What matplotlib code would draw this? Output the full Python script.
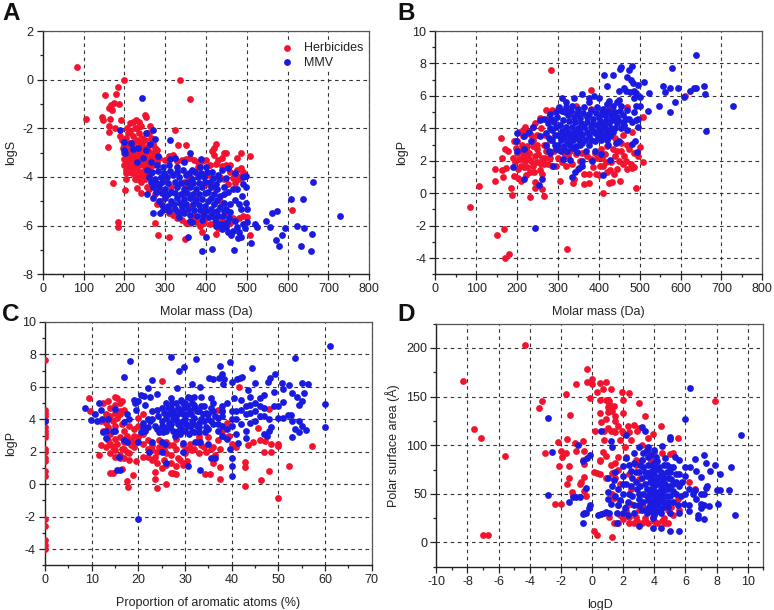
import matplotlib
matplotlib.use("Agg")
import matplotlib.pyplot as plt
from matplotlib.ticker import MultipleLocator
from matplotlib.transforms import blended_transform_factory

plt.rcParams['font.family'] = ['Liberation Sans', 'DejaVu Sans']
plt.rcParams['axes.unicode_minus'] = False

RED = '#f2142e'
BLUE = '#1a1ae0'

A_HERB = [(85,.5),(107,-1.6),(145,-1.55),(147,-1.65),(152,-.65),(160,-2.75),(162,-2.15),(163,-1.9),(164,-1.6),(162,-1.15),(168,-1.05),(170,-1.25),(175,-.95),(172,-4.25),(180,-.6),(185,-.3),(200,0),(188,-1.0),(192,-1.65),(178,-2.0),(190,-2.3),(185,-5.85),(184,-6.07),(203,-4.1),(202,-4.55),(337,0),(362,-.8),(323,-2.05),(332,-2.7),(350,-2.7),(250,-1.45),(252,-1.55),(263,-1.9),(215,-1.8),(222,-1.72),(228,-1.65),(235,-1.75),(240,-1.9),(425,-2.65),(420,-2.8),(415,-2.95),(445,-3.0),(450,-3.0),(485,-3.0),(475,-3.2),(507,-3.15),(485,-3.65),(490,-3.8),(610,-5.37),(500,-5.65),(507,-6.4),(425,-6.35),(390,-6.25),(348,-6.55),(310,-6.45),(283,-6.4),(274,-5.9),
(195,-2.5),(200,-2.7),(205,-2.4),(210,-2.2),(215,-2.6),(220,-2.3),(225,-2.8),(230,-2.5),(235,-2.2),(240,-2.6),(245,-2.9),(250,-2.5),(255,-2.2),(260,-2.7),(265,-2.4),(200,-3.0),(205,-3.2),(210,-3.0),(215,-3.3),(220,-3.0),(225,-3.2),(230,-3.0),(235,-3.3),(240,-3.0),(250,-3.2),(255,-3.0),(260,-3.3),(270,-3.0),(280,-2.9),(200,-3.5),(205,-3.7),(210,-3.5),(215,-3.8),(220,-3.6),(225,-3.4),(230,-3.7),(235,-3.5),(240,-3.8),(245,-3.5),(250,-3.7),(260,-3.6),(270,-3.5),(280,-3.4),(225,-4.1),(230,-4.1),(235,-4.0),(240,-4.2),(250,-4.1),(255,-4.4),(230,-4.45),(240,-4.65),(260,-4.5),(275,-4.7),(290,-5.0),(280,-5.1),
(300,-3.3),(320,-3.1),(340,-3.3),(360,-3.2),(380,-3.4),(400,-3.3),(420,-3.1),(430,-3.3),(440,-3.2),(450,-3.5),(460,-3.8),(470,-3.9),(480,-4.1),(470,-4.25),(455,-4.3),(435,-4.0),(405,-3.9),(380,-3.6),(345,-4.2),(345,-4.65),(350,-4.4),(330,-5.7),(350,-5.9),(370,-5.6),(385,-6.0),(400,-5.7),(420,-5.9),(440,-5.8),(460,-5.9),(480,-5.7),(300,-4.8),(320,-5.2),(310,-5.5),(340,-5.4),(365,-5.2),(375,-4.9),(395,-5.4),(415,-5.6),(435,-5.0),(455,-5.5),(405,-4.3),(425,-4.5),(285,-4.3),(300,-4.0),(315,-4.4),(360,-4.0)]
A_HERB_DENSE = [(197,-2.8),(203,-2.95),(208,-2.7),(213,-2.9),(218,-2.75),(223,-2.55),(228,-2.95),(233,-2.75),(238,-2.85),(243,-2.4),(248,-2.75),(198,-3.25),(203,-3.4),(208,-3.3),(213,-3.1),(218,-3.25),(223,-3.45),(228,-3.35),(233,-3.15),(238,-3.4),(243,-3.2),(247,-3.05),(253,-3.45),(258,-2.9),(265,-3.2),(275,-3.25),(285,-3.2),(203,-3.85),(208,-3.75),(213,-3.6),(218,-3.85),(228,-3.95),(238,-4.05),(245,-3.9),(252,-3.9),(265,-3.85),(225,-2.0),(232,-2.0),(215,-2.1),(207,-2.0),(260,-2.2),(270,-2.65),(275,-2.8),(310,-3.15),(330,-3.35),(350,-3.25),(370,-3.3),(390,-3.35),(410,-3.5),(425,-3.45),(440,-3.55),(460,-3.5),(475,-3.7),(485,-3.95),(475,-4.1),(465,-4.05),(445,-4.1),(340,-5.75),(360,-5.9),(375,-5.85),(395,-5.9),(410,-5.95),(430,-6.1),(445,-5.9),(465,-5.7),(490,-5.6),(320,-5.55),(300,-5.3),(290,-4.6),(270,-4.3)]

A_MMV = [(243,-.75),(190,-2.05),(200,-2.55),(200,-2.9),(201,-3.0),(217,-2.6),(220,-2.85),(230,-3.4),(233,-2.8),(253,-2.2),(270,-2.05),(263,-2.65),(274,-2.45),(252,-2.9),(245,-3.2),(282,-3.15),(312,-2.5),(313,-3.25),(325,-3.2),(360,-3.0),(388,-3.25),(255,-4.7),(270,-4.85),(285,-5.0),(270,-5.5),(288,-5.5),(295,-5.35),(357,-6.45),(401,-6.45),(390,-7.05),(414,-6.95),(469,-7.0),(510,-6.7),(485,-6.45),(478,-6.5),(520,-5.95),(525,-6.05),(547,-5.8),(556,-6.05),(561,-5.5),(575,-5.4),(572,-6.6),(579,-6.85),(587,-6.4),(593,-6.1),(609,-4.9),(622,-6.0),(632,-6.85),(637,-4.9),(639,-6.1),(658,-7.05),(660,-6.35),(663,-4.2),(728,-5.6),
(255,-3.7),(265,-3.4),(280,-3.5),(295,-3.6),(310,-3.5),(330,-3.6),(345,-3.4),(365,-3.7),(385,-3.6),(400,-3.6),(415,-3.8),(430,-3.9),(440,-3.7),(455,-3.65),(470,-3.85),(490,-4.0),(497,-3.95),(498,-4.4),(490,-4.3),(475,-4.5),(465,-4.5),(455,-4.6),(445,-4.7),(260,-4.0),(275,-4.1),(290,-4.0),(305,-4.0),(320,-3.9),(335,-4.0),(350,-3.9),(365,-4.1),(380,-4.0),(395,-4.0),(410,-4.2),(425,-4.3),(270,-4.4),(285,-4.4),(300,-4.5),(315,-4.6),(330,-4.4),(345,-4.5),(360,-4.4),(375,-4.5),(390,-4.4),(405,-4.6),(420,-4.7),(435,-4.8),(300,-4.85),(315,-5.0),(330,-4.85),(345,-4.9),(360,-4.85),(375,-4.95),(390,-4.9),(405,-5.0),(420,-5.1),(435,-5.25),(450,-5.3),(310,-5.4),(325,-5.3),(340,-5.25),(355,-5.3),(370,-5.35),(385,-5.35),(400,-5.4),(415,-5.5),(430,-5.6),(445,-5.4),(460,-5.45),(470,-4.95),(480,-5.1),(487,-4.8),(497,-5.05),(500,-5.3),(485,-5.3),(335,-5.65),(360,-5.8),(365,-5.85),(390,-5.75),(425,-5.85),(425,-6.0),(440,-6.15),(455,-6.25),(462,-6.4),(475,-6.05),(490,-5.95),(500,-5.85),(495,-6.1),(470,-5.8),(450,-6.05)]
A_MMV_DENSE = [(268,-3.8),(283,-3.75),(298,-3.85),(313,-3.75),(328,-3.8),(343,-3.7),(358,-3.85),(373,-3.8),(388,-3.85),(403,-3.8),(418,-4.05),(433,-4.1),(448,-4.05),(265,-4.2),(278,-4.25),(293,-4.2),(308,-4.25),(323,-4.2),(338,-4.25),(353,-4.2),(368,-4.25),(383,-4.25),(398,-4.2),(413,-4.4),(428,-4.5),(443,-4.4),(278,-4.6),(293,-4.65),(308,-4.7),(323,-4.65),(338,-4.7),(353,-4.65),(368,-4.7),(383,-4.7),(398,-4.65),(413,-4.85),(428,-4.95),(443,-5.05),(458,-5.1),(292,-5.15),(307,-5.2),(322,-5.1),(337,-5.05),(352,-5.1),(367,-5.1),(382,-5.15),(397,-5.2),(412,-5.3),(427,-5.4),(442,-5.6),(457,-5.7),(332,-5.45),(347,-5.5),(362,-5.55),(377,-5.6),(392,-5.55),(407,-5.65),(422,-5.7),(437,-5.95),(452,-5.85),(467,-6.2),(482,-6.25)]

B_HERB = [(85,-.87),(107,.45),(145,.78),(147,1.5),(152,-2.55),(160,3.4),(162,2.2),(163,1.4),(168,-2.2),(170,-4.0),(181,-3.75),(165,1.0),(172,1.55),(170,2.7),(178,2.6),(185,.3),(187,-.1),(192,1.05),(203,.95),(210,.75),(222,1.1),(232,-.25),(243,.3),(243,.7),(262,.25),(265,-.2),(283,7.62),(323,-3.45),(305,.75),(337,.65),(340,.9),(363,.55),(376,.6),(380,6.35),(410,0),(425,.65),(433,.7),(452,.75),(490,.3),(610,6.0),(507,4.7),(507,1.95),(500,2.85),(495,2.3),(480,1.55),(487,1.6),(470,1.5),(467,2.0),(478,1.8),(455,2.6),(470,3.0),
(190,2.2),(195,1.9),(200,2.5),(205,2.1),(210,1.7),(215,2.3),(220,2.0),(225,1.6),(230,2.5),(235,2.0),(240,1.7),(245,2.3),(250,1.9),(255,1.4),(260,2.2),(265,1.8),(270,2.6),(280,2.2),(285,1.7),(200,3.2),(205,3.8),(215,3.5),(220,4.1),(225,2.9),(235,3.6),(245,4.3),(250,3.0),(255,4.65),(270,5.1),(285,5.15),(300,5.2),(330,5.0),(345,5.4),(380,5.2),(425,5.2),(440,5.0),(470,5.3),(480,3.8),(460,3.6),(440,3.4),(420,2.9),(300,2.2),(310,1.9),(325,2.3),(335,1.8),(345,2.4),(355,2.0),(365,1.2),(370,2.3),(385,1.6),(395,2.2),(400,1.1),(410,1.7),(415,2.4),(420,1.3),(430,1.9),(440,2.3),(445,1.5),(450,2.0),(405,2.7),(390,2.5),(435,2.7),(455,3.1),(280,3.3),(265,3.0),(240,3.3)]
B_HERB_DENSE = [(192,3.2),(198,2.8),(203,1.5),(208,2.6),(212,3.0),(218,1.6),(222,2.7),(228,2.2),(232,1.3),(238,2.9),(242,1.3),(248,2.7),(252,2.4),(258,1.8),(262,1.2),(268,2.2),(272,2.9),(276,1.8),(290,2.6),(295,1.7),(300,2.7),(215,3.9),(228,3.7),(238,4.1),(258,4.0),(268,3.6),(278,4.7),(248,3.6),(210,2.1),(218,2.4),(226,2.2),(315,2.5),(320,1.7),(330,2.6),(350,1.5),(360,2.5),(375,1.2),(380,2.1),(392,1.2),(402,1.7),(408,2.2),(418,1.9),(428,1.4),(438,1.2),(445,2.6),(458,1.8),(462,2.3),(475,2.7),(485,2.5)]

B_MMV = [(189,1.6),(200,2.6),(218,2.75),(217,.85),(253,.5),(262,.9),(288,1.7),(243,-2.15),(335,1.0),(342,1.3),(352,1.55),(358,1.65),(410,1.1),(427,2.05),(359,2.0),(384,2.0),(330,2.05),(312,2.1),(280,2.45),(277,2.6),(405,2.4),(347,2.55),(368,2.6),(390,2.6),(423,3.0),(442,3.1),(450,3.2),(480,3.05),(488,3.2),(494,2.55),(495,4.1),
(197,3.2),(200,3.7),(216,3.5),(230,3.8),(240,4.1),(255,4.5),(265,4.55),(280,4.9),(310,5.85),(340,5.85),(359,6.1),(388,6.0),(400,5.85),(420,6.6),(413,7.3),(435,7.3),(450,6.3),(453,7.65),(455,7.8),(461,6.5),(470,7.15),(473,7.6),(478,7.0),(480,7.85),(483,6.8),(485,6.3),(490,6.2),(487,5.85),(467,6.3),(476,6.25),(495,6.65),(500,5.95),(511,6.83),(520,5.05),(524,6.2),(547,5.4),(556,6.6),(561,6.25),(575,6.5),(575,5.0),(579,7.7),(587,5.6),(593,6.5),(609,5.95),(622,6.3),(632,6.5),(637,8.55),(639,6.5),(658,6.6),(660,6.13),(663,3.85),(728,5.35),
(235,3.2),(255,3.5),(270,3.0),(285,3.3),(300,3.0),(315,2.9),(330,3.0),(345,2.9),(360,3.1),(375,3.0),(390,3.2),(405,3.3),(420,3.3),(270,3.7),(285,3.9),(300,3.6),(315,3.5),(330,3.5),(345,3.5),(360,3.6),(375,3.5),(390,3.7),(405,3.7),(420,3.8),(435,3.8),(275,4.3),(290,4.4),(305,4.2),(320,4.1),(335,4.1),(350,4.0),(365,4.1),(380,4.1),(395,4.2),(410,4.2),(425,4.3),(440,4.0),(455,4.0),(470,3.9),(475,4.6),(295,5.0),(310,5.05),(325,4.8),(340,4.7),(355,4.65),(370,4.7),(385,4.6),(400,4.7),(415,4.8),(430,4.75),(445,4.7),(460,4.8),(320,5.3),(335,5.35),(350,5.2),(365,5.3),(380,5.1),(395,5.3),(410,5.2),(425,5.7),(445,5.6),(455,5.4),(470,5.1),(485,5.0),(490,5.4),(497,4.6),(500,5.35),(490,4.5),(375,5.6)]
B_MMV_DENSE = [(278,3.4),(292,3.0),(293,3.6),(307,3.3),(322,3.2),(337,3.25),(352,3.25),(367,3.3),(382,3.25),(397,3.45),(412,3.5),(427,3.55),(280,4.0),(295,4.1),(310,3.85),(325,3.8),(340,3.8),(355,3.8),(370,3.8),(385,3.85),(400,3.95),(415,4.0),(430,4.05),(445,4.3),(460,4.4),(283,4.6),(298,4.7),(312,4.5),(327,4.45),(342,4.4),(357,4.35),(372,4.4),(387,4.35),(402,4.45),(417,4.5),(432,4.5),(447,4.5),(462,4.2),(302,5.3),(317,5.0),(332,5.05),(347,4.95),(362,4.95),(377,4.9),(392,4.95),(407,5.0),(422,5.05),(437,5.0),(452,5.05),(467,4.6),(480,4.4),(322,2.6),(338,2.8),(355,3.0),(308,2.6),(295,2.7),(375,5.9),(420,5.5),(435,5.35),(450,5.75),(320,5.6)]

C_HERB = [(0,7.65),(0,4.6),(0,4.4),(0,4.2),(0,3.9),(0,3.5),(0,3.3),(0,3.1),(0,2.9),(0,2.2),(0,2.0),(0,1.6),(0,1.4),(0,.8),(0,.5),(0,-2.15),(0,-2.55),(0,-3.45),(0,-3.75),(0,-4.0),(9.5,5.3),(9.7,4.5),(11.5,1.8),(12,3.9),(12.5,5.0),(13.5,5.1),(14,.7),(14.5,.7),(15,5.4),(15.5,5.3),(16,5.0),(16.5,.95),(17.5,.2),(17.8,-.15),(18.8,.55),(19.5,1.45),(23.5,.3),(23.5,.75),(24,-.25),(25,6.35),(26,0),(27,.7),(27.5,.7),(28,.6),(33,1.9),(34.2,.65),(35.3,.65),(37.5,.3),(37.5,1.05),(41.5,6.0),(42.8,-.1),(42.8,1.05),(42.8,1.35),(46.2,.25),(48,.8),(50,-.87),(50,2.35),(50,2.5),(52.2,1.15),(57.2,2.35),(48.5,2.5),(48.5,2.0),(47,2.0),(47.2,2.65),(46,2.7),(45.6,3.45),(43.5,2.4),(44.5,2.6),(41,2.3),(48,4.65),
(12,2.4),(13,2.3),(14,2.5),(15,2.1),(16,1.8),(17,2.2),(18,1.9),(19,2.3),(15,1.7),(17,1.6),(18,1.5),(13,3.8),(14,4.2),(15,3.6),(16,4.3),(17,3.3),(18,3.6),(19,3.4),(20,2.9),(14,3.1),(15,2.8),(16,2.9),(17,2.6),(14,4.7),(15,4.9),(16,4.5),(19,3.0),(20,3.6),(21,2.5),(22,2.2),(23,2.4),(24,2.0),(21,1.7),(22,1.7),(24,1.3),(25,1.0),(25.5,1.5),(26,1.9),(27,1.3),(27.5,2.4),(28,2.8),(29,1.5),(29.5,1.2),(30,1.9),(30.5,1.45),(31,2.2),(32,2.2),(33,2.8),(34,2.3),(35,2.9),(36,2.3),(36,1.3),(37,2.7),(37.5,2.2),(38,3.3),(39,3.8),(38,4.5),(37,4.6),(40,2.5),(26,2.6),(24.5,2.7),(28,2.2),(21,4.3),(20,4.1),(31,2.5),(33,3.0)]
C_HERB_DENSE = [(12.5,3.3),(13.5,3.5),(14.5,3.9),(15.5,4.1),(16.5,3.7),(17.5,3.0),(18.5,2.7),(19.5,2.6),(13.5,2.7),(14.5,2.3),(15.5,2.5),(16.5,2.2),(17.5,2.0),(18.5,2.4),(16,1.6),(14,1.9),(13,4.3),(15,4.4),(17,4.6),(16.5,5.1),(21,3.1),(22,2.7),(23,2.1),(23.5,1.7),(24.5,2.3),(25.5,2.2),(26.5,2.4),(27,1.8),(28.5,1.6),(29.5,2.4),(30.5,2.2),(31.5,2.1),(32.5,2.6),(33.5,2.4),(34.5,2.0),(35.5,2.2),(36.5,1.8),(23,1.5),(26,1.2),(28,1.1),(30,1.3),(38.5,2.9),(39.5,3.0)]

C_MMV = [(0,3.9),(8.5,4.7),(9.8,3.95),(10.8,4.3),(11.2,3.9),(11.6,5.0),(12,4.6),(12.2,4.0),(12.5,3.2),(13,3.3),(13.1,2.85),(13.5,4.05),(15,4.65),(14.5,3.3),(15,3.3),(15.5,.9),(16,.9),(15.9,1.7),(17,2.7),(17.5,2.6),(17,3.85),(17.5,4.3),(18,4.0),(17,6.6),(18.2,7.6),(19,5.2),(19.2,5.0),(19.5,4.6),(20,5.1),(20,2.6),(20,-2.15),(20.5,5.5),(21.2,5.45),(21.5,4.9),(22,5.95),(22.3,2.0),(22.5,5.35),(23,6.45),(23,2.6),(24,5.55),(25,2.0),(25,2.6),(25.8,2.5),(26,1.3),(27,7.85),(28.2,5.95),(28.8,7.0),(29.7,7.25),(29.5,2.0),(29.5,2.55),(30.7,1.1),(31.5,6.2),(32.4,7.7),(33.3,.85),(33.3,6.0),(32.2,2.6),(33.2,2.6),(35,2.45),(35.2,6.55),(35.5,1.6),(36.5,1.6),(36,6.5),(37.2,6.55),(37.5,7.3),(38,6.8),(38.2,6.15),(38.3,6.5),(39.7,7.55),(40,6.3),(40,1.6),(40,1.1),(40,.5),(39.7,2.2),(41.4,2.55),(41.2,6.5),(41.8,6.55),(42.3,6.6),(44.3,7.15),(45,6.25),(43.5,5.8),(49.2,6.8),(48.2,6.55),(47.8,6.3),(50.8,6.25),(51,5.9),(52.2,6.1),(53,5.6),(53.5,7.75),(54,5.4),(55,6.25),(55.6,5.6),(56.3,6.2),(60,4.95),(60,3.5),(61,8.55),(55,5.1),(54.5,4.9),(55,3.6),(54.5,3.2),(56,3.35),(53,2.9),(53.5,3.4),(53,3.9),(54.5,3.9),(52.8,4.25),(52,4.25),(51,4.1),(51,5.05),(49,5.7),(49,4.8),(48,3.3),(47.5,3.0),(47,3.1),(48.4,3.5),(43,2.85),
(20.5,3.2),(21,3.8),(22,3.5),(23,4.0),(24,3.4),(24,4.6),(25,3.9),(25.5,4.4),(26,3.3),(26,5.0),(27,3.7),(27,4.7),(27,5.3),(28,3.2),(28,4.2),(28,5.0),(29,3.6),(29,4.6),(29,3.1),(30,4.0),(30,5.0),(30,3.3),(31,3.6),(31,4.6),(31,5.3),(32,3.2),(32,4.1),(32,4.9),(33,3.5),(33,4.5),(33.5,5.4),(34,3.9),(34,4.8),(35,3.4),(35,4.3),(35.5,5.3),(36,3.7),(36,5.0),(37,3.3),(38,3.6),(38,4.8),(39,5.0),(40,3.6),(40,4.5),(40.5,5.3),(41,3.1),(41,4.0),(42,3.7),(42,4.6),(42,5.2),(43,3.3),(43,4.3),(44,3.8),(44,4.9),(44,5.4),(45,4.5),(45,5.0),(46,4.2),(46,5.3),(47,4.7),(47,5.5),(48,4.0),(50,4.8),(50,4.1),(38,3.0),(39,2.8)]
C_MMV_DENSE = [(21.5,3.3),(22.5,3.9),(23.5,3.6),(24.5,3.2),(25,4.7),(25.5,3.5),(26.5,3.8),(26.5,4.3),(27.5,3.3),(27.5,4.0),(27.5,4.5),(28.5,3.7),(28.5,4.7),(28.5,3.3),(29.5,3.9),(29.5,4.3),(29.5,5.0),(30.5,3.6),(30.5,4.3),(30.5,4.8),(31.5,3.3),(31.5,3.9),(31.5,5.0),(32.5,3.6),(32.5,4.5),(33,3.2),(33.5,4.0),(33.5,4.8),(34.5,3.5),(34.5,4.4),(35.5,3.9),(35.5,4.7),(36.5,4.2),(37,3.7),(38,4.2),(39,3.4),(40,4.0),(41,4.5),(43,4.8),(44,4.4),(45,3.9),(46,4.8),(47,4.2),(23,4.5),(22,4.0),(21,3.5),
(25.2,3.2),(26,4.1),(26.8,3.5),(27.2,4.3),(27.8,3.0),(28.3,3.9),(28.7,4.4),(29.2,3.4),(29.8,4.7),(30.2,3.7),(30.8,3.1),(31.2,4.3),(31.8,3.7),(32.2,4.7),(26.3,4.7),(24.2,4.2),(25,3.6),(33,3.8),(33.8,4.3),(34.2,3.2),(35,4.0),(36,4.5),(37,4.1),(38,4.5),(27.2,5.0),(29.2,5.2),(30.7,5.4),(32,5.4)]

D_HERB = [(-8.3,166),(-7.6,117),(-7.1,107),(-7,7.5),(-6.7,7.5),(-5.6,89),(-4.3,203),(-3.4,138),(-3.2,145),(-3,92),(-2.4,40),(-2.2,103),(-2.1,79),(-2,94),(-2,40),(-1.9,88),(-1.7,92),(-1.7,153),(-1.6,106),(-1.6,60),(-1.5,66),(-1.5,79),(-1.4,131),(-1.3,52),(-1.2,49),(-1.1,102),(-1,94),(-1,163),(-.8,60),(-.7,62),(-.6,104),(-.6,85),(-.5,94),(-.5,81),(-.5,67),(-.5,53),(-.4,48),(-.3,178),(-.3,165),(0,168),(0,163),(.1,12),(.3,8),(.3,155),(-.1,149),(.5,164),(.5,147),(.5,133),(.6,124),(.7,158),(.9,165),(.9,147),(1,139),(1,134),(1.1,145),(1.2,158),(1.4,140),(1.5,130),(1.7,120),(1.9,155),(2,147),(2,133),(2.4,154),(2.4,114),(3,143),(3.4,130),(3.6,107),(3.9,112),(4.4,120),(5.2,92),(5.5,107),(7.9,145),(.2,115),(.5,70),(.8,115),(.8,105),(1.2,115),(1.4,115),(1.7,88),(1.9,115),(2.1,98),(2,113),(2.7,121),(3,118),(3.2,100),(.1,72),(.5,85),(.5,84),(.9,89),(1.3,71),(1.1,26),(1.3,6),(1.4,20),(1.7,20),(2.4,20),(2.7,20),(3.2,20),(3.6,20),(4.2,20),(4.7,20),(4.9,20),(1.5,82),(3.5,94),(4,93),(4.5,92),(5,91),
(2.2,32),(2.8,26),(3.4,25),(3.9,26),(4.6,25),(5.2,28),(5.6,33),(1.7,38),(2.5,40),(1.3,50),(1.8,60),(2.5,55),(3,65),(2.4,70),(1.5,66),(3.2,85),(2.8,85),(3.8,84),(4.5,50),(5.5,45),(6.2,62),(6.6,55),(.9,66),(.3,71),(1.4,46)]
D_HERB_DENSE = [(1,147),(1.1,142),(1.3,135),(1.5,125),(.9,127),(1,118),(1.5,114),(2.3,120),(2.9,115),(2.5,105),(1.8,105),(2.2,88),(2.8,80),(1.7,75),(1.2,80),(.7,93),(3,33),(3.3,36),(2,24),(2.9,22),(3.4,22),(4,22),(4.5,22),(1.8,28),(2.2,36),(2.4,26),(3.6,33),(5.1,36),(4.9,33)]

D_MMV = [(-2.8,128),(-2.6,93),(-2.8,49),(-1.5,42),(-1.2,47),(-1,47),(-.9,100),(-.8,47),(-.6,84),(-.3,87),(-.1,90),(-.4,56),(-.2,35),(-.1,38),(-.6,20),(-.6,29),(-.5,30),(-.4,30),(.4,28),(.6,29),(.8,30),(.9,31),(.6,115),(1.2,104),(1.3,98),(1,66),(2.2,111),(3.2,119),(3.4,115),(3.6,98),(5,106),(5,108),(4.5,99),(6,127),(6.3,159),(9.6,110),(9.2,28),(8.9,78),(8.8,54),(8.1,40),(8.2,70),(8,54),(7.9,80),(8.2,54),(7.6,73),(7.2,90),(7.3,82),(7,67),(6.6,86),(6.7,73),(7.3,56),(7.4,58),(7,50),(7.2,50),(7,40),(7.2,38),(7,35),(7.5,37),(7.2,24),(6.8,28),(6.8,25),(6.7,45),(6.2,38),(6.2,32),(5.6,12),(5,12),(4.4,15),(3.9,15),(3,17),(1.6,20),
(1,52),(1.5,48),(1,45),(1.7,38),(1.3,58),(2,50),(2.3,42),(2.5,58),(2,68),(1.5,72),(2,79),(2.2,87),(2.7,92),(3,98),(3.5,95),(3.2,85),(3,72),(2.8,62),(3,50),(3,38),(2.7,30),(2.3,28),(3.5,30),(3.3,42),(3.5,55),(3.5,68),(3.6,80),(3.8,90),(4,95),(4,82),(4,70),(4,58),(4,46),(4,35),(3.9,25),(4.4,30),(4.3,42),(4.4,55),(4.3,67),(4.3,78),(4.7,87),(4.8,72),(4.7,60),(4.8,48),(4.7,38),(5,30),(5.2,42),(5.2,53),(5.1,65),(5.2,78),(5.3,88),(5.6,85),(5.6,70),(5.6,58),(5.7,48),(5.6,30),(6,78),(6,68),(6.2,55),(6.5,50),(6.3,78),(6.6,54),(3.7,50),(3.7,62),(3.7,38),(4.1,64),(4.1,52),(2.6,48),(1.2,40),(1.1,30),(1.6,30),(5,58),(4.5,62)]
D_MMV_DENSE = [(1.7,55),(2.2,60),(2.4,50),(1.8,44),(2.1,35),(2.7,38),(2.5,73),(2.7,82),(3.1,58),(3.2,66),(3.3,78),(3.3,92),(3.3,50),(3.2,33),(3.6,44),(3.7,72),(3.8,55),(3.8,32),(3.8,66),(4.1,88),(4.2,76),(4.2,60),(4.2,48),(4.2,38),(3.9,78),(4,28),(4.5,70),(4.5,50),(4.5,45),(4.5,35),(4.6,80),(4.9,55),(4.9,66),(4.9,42),(5,78),(5.4,62),(5.4,50),(5.4,70),(5.5,38),(5.8,62),(6,50),(5.9,40),(2,30),(1.4,64),
(3,45),(3.1,80),(3.4,60),(3.4,72),(3.5,48),(3.6,35),(3.6,88),(3.8,42),(3.9,60),(3.9,52),(4,76),(4.1,42),(4.2,32),(4.2,84),(4.4,48),(4.4,60),(4.4,72),(4.6,54),(4.6,66),(4.6,42),(4.8,80),(4.9,36),(5,48),(5,72),(5.2,60),(2.8,72),(2.6,66),(2.9,55),(2.4,80),(2,60)]

X_MASS = 'Molar mass (Da)'
W, H = 774, 610
TEXT = '#222222'


def panel(rect, red, blue, xlim, ylim, xstep, ystep, xlabel, ylabel, letter, lxy, ylabel_x):
    x0, y0, x1, y1 = rect
    ax = fig.add_axes([x0 / W, 1 - y1 / H, (x1 - x0) / W, (y1 - y0) / H])
    ax.scatter(*zip(*red), s=24, color=RED, linewidths=0, zorder=3, label='Herbicides')
    ax.scatter(*zip(*blue), s=24, color=BLUE, linewidths=0, zorder=4, label='MMV')
    ax.set_xlim(xlim)
    ax.set_ylim(ylim)
    ax.xaxis.set_major_locator(MultipleLocator(xstep))
    ax.yaxis.set_major_locator(MultipleLocator(ystep))
    ax.xaxis.set_minor_locator(MultipleLocator(xstep / 2))
    ax.yaxis.set_minor_locator(MultipleLocator(ystep / 2))
    ax.grid(True, which='major', color='#333333', lw=0.8, ls=(0, (3.2, 3.2)), zorder=1)
    ax.set_axisbelow(True)
    ax.tick_params(which='major', length=4, width=0.9, labelsize=9, pad=2.5, color=TEXT, labelcolor=TEXT)
    ax.tick_params(which='minor', length=2.5, width=0.9, color=TEXT)
    for s in ('left', 'bottom'):
        ax.spines[s].set_linewidth(1.0)
        ax.spines[s].set_color(TEXT)
    for s in ('top', 'right'):
        ax.spines[s].set_linewidth(0.9)
        ax.spines[s].set_color('#555555')
    ax.set_xlabel(xlabel, fontsize=9, color=TEXT, labelpad=8)
    ax.set_ylabel(ylabel, fontsize=9, color=TEXT)
    trans = blended_transform_factory(fig.transFigure, ax.transAxes)
    ax.yaxis.set_label_coords(ylabel_x / W, 0.5, transform=trans)
    fig.text(lxy[0] / W, 1 - lxy[1] / H, letter, fontsize=17.5, fontweight='bold', ha='left', va='baseline', color='#111111')
    return ax


fig = plt.figure(figsize=(W / 100, H / 100), dpi=100)

a = panel((42.7, 31, 369.3, 274.3), A_HERB + A_HERB_DENSE, A_MMV + A_MMV_DENSE, (0, 800), (-8, 2), 100, 2, X_MASS, 'logS', 'A', (2, 20), 17)
a.legend(loc='upper right', frameon=True, facecolor='white', edgecolor='none', framealpha=1, fancybox=False,
         fontsize=9, handletextpad=0.4, labelspacing=0.2, bbox_to_anchor=(0.99, 0.965), borderaxespad=0,
         borderpad=0.2, scatterpoints=1, labelcolor=TEXT).set_zorder(5)
panel((435.3, 31, 762.3, 274.3), B_HERB + B_HERB_DENSE, B_MMV + B_MMV_DENSE, (0, 800), (-5, 10), 100, 2, X_MASS, 'logP', 'B', (397, 20), 408)
panel((45, 322, 371.7, 565.3), C_HERB + C_HERB_DENSE, C_MMV + C_MMV_DENSE, (0, 70), (-5, 10), 10, 2, 'Proportion of aromatic atoms (%)', 'logP', 'C', (2, 321), 17)
panel((436.3, 323.7, 763.3, 566.7), D_HERB + D_HERB_DENSE, D_MMV + D_MMV_DENSE, (-10, 11), (-25, 225), 2, 50, 'logD', 'Polar surface area (Å)', 'D', (397, 321), 400)

fig.savefig('out.png', dpi=100)
